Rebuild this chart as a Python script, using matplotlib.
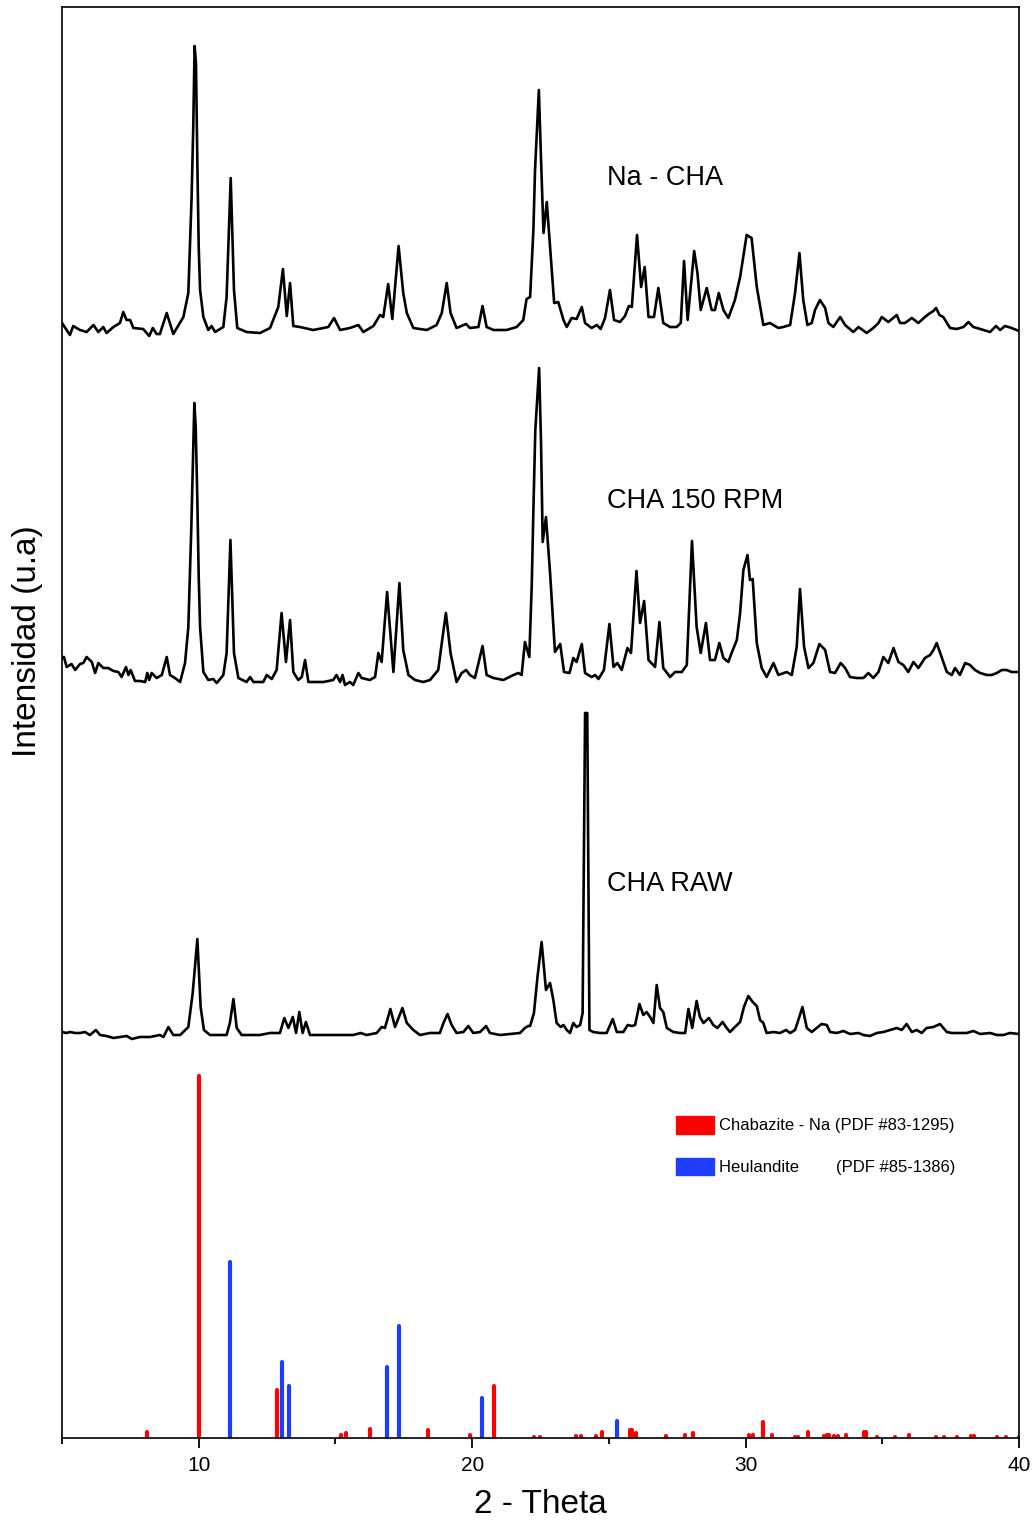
import matplotlib
matplotlib.use("Agg")
import matplotlib.pyplot as plt
from matplotlib.patches import Patch

plt.rcParams["font.family"] = ["Liberation Sans", "DejaVu Sans"]

# --- measured patterns (2theta, intensity a.u. above own baseline) ---
na_cha = [
    (5.00, 12), (5.29, 0), (5.41, 9), (5.66, 5), (5.90, 3), (6.15, 10), (6.33, 3), (6.51, 8),
    (6.63, 2), (6.88, 8), (7.12, 12), (7.24, 23), (7.36, 15), (7.49, 15), (7.61, 7), (7.97, 6),
    (8.19, -1), (8.32, 7), (8.46, 1), (8.58, 1), (8.83, 22), (9.07, 1), (9.44, 18), (9.62, 42),
    (9.74, 138), (9.80, 208), (9.85, 289), (9.90, 272), (9.95, 172), (10.00, 88), (10.05, 45),
    (10.17, 18), (10.35, 5), (10.47, 9), (10.60, 3), (10.90, 8), (11.02, 38), (11.17, 157),
    (11.29, 45), (11.41, 7), (11.75, 3), (12.24, 2), (12.61, 7), (12.91, 28), (13.08, 66),
    (13.22, 19), (13.34, 52), (13.46, 9), (13.70, 8), (14.19, 5), (14.56, 7), (14.74, 8),
    (14.95, 17), (15.17, 5), (15.53, 7), (15.84, 10), (16.02, 3), (16.39, 9), (16.63, 20),
    (16.75, 18), (16.93, 51), (17.08, 16), (17.31, 89), (17.48, 42), (17.61, 22), (17.85, 7),
    (18.34, 5), (18.70, 10), (18.89, 22), (19.07, 52), (19.21, 22), (19.43, 7), (19.78, 11),
    (19.92, 7), (20.23, 8), (20.38, 29), (20.53, 8), (20.78, 5), (21.26, 5), (21.63, 8),
    (21.87, 15), (21.99, 36), (22.12, 38), (22.24, 105), (22.30, 165), (22.44, 245), (22.52, 175),
    (22.61, 102), (22.73, 133), (22.85, 88), (23.00, 32), (23.15, 33), (23.34, 15), (23.46, 8),
    (23.64, 17), (23.82, 16), (24.01, 28), (24.13, 12), (24.37, 7), (24.56, 10), (24.70, 6),
    (24.86, 17), (25.04, 45), (25.19, 15), (25.41, 13), (25.59, 19), (25.73, 29), (25.84, 28),
    (26.03, 100), (26.18, 48), (26.31, 68), (26.45, 18), (26.65, 18), (26.81, 47), (26.99, 12),
    (27.24, 8), (27.48, 8), (27.63, 12), (27.75, 74), (27.88, 15), (28.12, 84), (28.24, 62),
    (28.36, 25), (28.58, 47), (28.76, 25), (28.88, 25), (29.02, 42), (29.19, 25), (29.37, 17),
    (29.61, 35), (29.80, 58), (30.04, 100), (30.22, 97), (30.41, 48), (30.65, 10), (30.89, 12),
    (31.20, 7), (31.38, 8), (31.63, 10), (31.81, 42), (31.97, 82), (32.11, 35), (32.26, 10),
    (32.42, 12), (32.54, 25), (32.72, 35), (32.91, 27), (33.03, 12), (33.21, 8), (33.46, 18),
    (33.64, 10), (33.94, 3), (34.13, 8), (34.43, 2), (34.67, 7), (34.86, 12), (34.98, 18),
    (35.22, 13), (35.53, 20), (35.65, 12), (35.83, 12), (36.08, 17), (36.32, 12), (36.56, 18),
    (36.75, 22), (36.87, 24), (36.97, 27), (37.09, 20), (37.23, 18), (37.48, 7), (37.72, 6),
    (37.97, 8), (38.15, 13), (38.33, 8), (38.58, 6), (38.94, 3), (39.16, 9), (39.31, 5),
    (39.49, 9), (39.73, 7), (40.00, 4),
]

cha_150 = [
    (5.00, 27), (5.07, 28), (5.17, 18), (5.35, 21), (5.48, 15), (5.66, 21), (5.78, 22), (5.90, 28),
    (6.09, 23), (6.21, 12), (6.33, 22), (6.51, 17), (6.69, 17), (6.88, 14), (7.06, 13), (7.18, 8),
    (7.34, 18), (7.43, 10), (7.51, 15), (7.67, 4), (7.85, 4), (8.04, 3), (8.12, 12), (8.19, 5),
    (8.28, 12), (8.46, 7), (8.65, 10), (8.83, 28), (8.95, 10), (9.13, 7), (9.32, 3), (9.50, 22),
    (9.62, 58), (9.73, 158), (9.78, 215), (9.84, 282), (9.89, 258), (9.95, 185), (10.00, 108),
    (10.05, 58), (10.17, 13), (10.35, 5), (10.53, 6), (10.66, 2), (10.90, 10), (11.02, 32),
    (11.16, 145), (11.29, 32), (11.45, 7), (11.75, 3), (11.88, 8), (12.00, 3), (12.36, 3),
    (12.49, 10), (12.67, 6), (12.85, 15), (13.03, 72), (13.19, 23), (13.34, 65), (13.46, 13),
    (13.64, 5), (13.77, 8), (13.89, 25), (14.01, 3), (14.56, 3), (14.92, 5), (15.04, 10),
    (15.17, 3), (15.26, 10), (15.35, 0), (15.53, 3), (15.65, 0), (15.84, 12), (15.96, 7),
    (16.26, 5), (16.45, 8), (16.57, 32), (16.69, 23), (16.89, 93), (17.12, 13), (17.34, 102),
    (17.48, 35), (17.67, 10), (17.91, 5), (18.21, 3), (18.46, 5), (18.76, 15), (18.89, 42),
    (19.04, 72), (19.21, 32), (19.43, 3), (19.62, 12), (19.78, 15), (19.92, 10), (20.10, 7),
    (20.26, 25), (20.38, 39), (20.53, 10), (20.78, 7), (21.14, 5), (21.51, 10), (21.69, 12),
    (21.81, 10), (21.93, 43), (22.09, 28), (22.18, 100), (22.24, 175), (22.31, 255), (22.45, 317),
    (22.52, 242), (22.58, 143), (22.70, 168), (22.85, 112), (23.03, 33), (23.22, 41), (23.36, 13),
    (23.56, 12), (23.70, 27), (23.82, 23), (24.01, 41), (24.13, 12), (24.37, 8), (24.50, 10),
    (24.62, 6), (24.82, 15), (25.02, 61), (25.17, 18), (25.31, 22), (25.47, 15), (25.68, 37),
    (25.81, 32), (26.01, 114), (26.14, 62), (26.29, 84), (26.45, 25), (26.69, 18), (26.85, 63),
    (26.99, 17), (27.24, 8), (27.42, 13), (27.67, 13), (27.85, 20), (28.04, 144), (28.21, 58),
    (28.36, 32), (28.55, 62), (28.70, 25), (28.88, 25), (29.04, 42), (29.19, 27), (29.37, 23),
    (29.49, 32), (29.68, 45), (29.80, 72), (29.92, 115), (30.07, 130), (30.16, 105), (30.26, 106),
    (30.41, 42), (30.59, 17), (30.77, 8), (31.02, 22), (31.20, 10), (31.50, 13), (31.69, 10),
    (31.87, 38), (31.99, 96), (32.14, 38), (32.30, 17), (32.48, 22), (32.70, 41), (32.91, 35),
    (33.09, 13), (33.27, 12), (33.48, 22), (33.64, 17), (33.82, 8), (34.06, 7), (34.31, 7),
    (34.49, 12), (34.67, 7), (34.86, 13), (35.04, 28), (35.22, 22), (35.41, 37), (35.59, 23),
    (35.77, 20), (35.95, 13), (36.14, 23), (36.32, 17), (36.56, 27), (36.75, 30), (36.87, 35),
    (36.99, 42), (37.17, 28), (37.36, 13), (37.54, 10), (37.66, 17), (37.84, 10), (38.03, 22),
    (38.21, 20), (38.39, 15), (38.58, 12), (38.82, 10), (39.00, 10), (39.19, 12), (39.37, 15),
    (39.55, 15), (39.73, 13), (40.00, 13),
]

cha_raw = [
    (5.00, 8), (5.17, 7), (5.29, 8), (5.48, 7), (5.66, 7), (5.84, 8), (6.02, 5), (6.24, 10),
    (6.39, 5), (6.63, 4), (6.88, 2), (7.12, 3), (7.37, 4), (7.55, 1), (7.85, 3), (8.22, 3),
    (8.58, 5), (8.71, 3), (8.89, 13), (9.07, 5), (9.32, 5), (9.62, 13), (9.78, 47), (9.95, 101),
    (10.07, 33), (10.19, 10), (10.41, 5), (11.02, 5), (11.14, 17), (11.27, 41), (11.39, 12),
    (11.57, 5), (12.24, 5), (12.61, 7), (12.97, 7), (13.13, 22), (13.28, 12), (13.44, 23),
    (13.56, 7), (13.68, 28), (13.80, 7), (13.92, 18), (14.07, 5), (14.68, 5), (15.29, 5),
    (15.65, 5), (15.92, 7), (16.14, 5), (16.51, 7), (16.69, 13), (16.81, 12), (17.01, 31),
    (17.18, 13), (17.45, 32), (17.61, 17), (17.85, 10), (18.09, 5), (18.46, 7), (18.82, 7),
    (18.95, 17), (19.10, 26), (19.25, 15), (19.43, 7), (19.68, 8), (19.86, 14), (20.04, 7),
    (20.29, 8), (20.51, 14), (20.65, 7), (21.02, 5), (21.38, 6), (21.75, 7), (21.93, 12),
    (22.05, 14), (22.12, 14), (22.26, 27), (22.39, 63), (22.54, 98), (22.70, 50), (22.85, 57),
    (22.97, 40), (23.09, 17), (23.24, 13), (23.34, 15), (23.46, 10), (23.58, 7), (23.70, 17),
    (23.82, 13), (23.95, 15), (24.04, 27), (24.13, 327), (24.21, 327), (24.29, 10), (24.43, 8),
    (24.68, 7), (24.92, 7), (25.14, 21), (25.29, 8), (25.53, 8), (25.69, 15), (25.84, 14),
    (25.96, 15), (26.12, 36), (26.26, 25), (26.38, 28), (26.51, 23), (26.63, 17), (26.75, 55),
    (26.87, 32), (26.99, 28), (27.12, 12), (27.36, 8), (27.60, 7), (27.79, 7), (27.91, 31),
    (28.05, 12), (28.21, 39), (28.33, 23), (28.46, 17), (28.66, 22), (28.82, 15), (28.97, 12),
    (29.16, 18), (29.31, 12), (29.43, 8), (29.61, 13), (29.80, 18), (29.94, 33), (30.10, 44),
    (30.26, 38), (30.41, 34), (30.53, 20), (30.65, 17), (30.77, 7), (31.02, 8), (31.26, 7),
    (31.48, 10), (31.63, 7), (31.81, 10), (31.93, 20), (32.08, 33), (32.24, 12), (32.42, 8),
    (32.60, 12), (32.78, 16), (32.97, 15), (33.09, 8), (33.33, 7), (33.58, 9), (33.82, 6),
    (34.13, 7), (34.31, 5), (34.55, 4), (34.80, 7), (35.04, 8), (35.28, 10), (35.53, 12),
    (35.71, 10), (35.89, 16), (36.08, 8), (36.26, 10), (36.44, 7), (36.62, 12), (36.87, 13),
    (37.11, 16), (37.36, 8), (37.54, 7), (37.84, 7), (38.09, 7), (38.33, 9), (38.58, 6),
    (38.94, 7), (39.19, 5), (39.43, 5), (39.67, 7), (40.00, 6),
]

# vertical stacking of the three patterns (a.u.)
offsets = {"Na - CHA": 1103, "CHA 150 RPM": 753, "CHA RAW": 398}
label_y = {"Na - CHA": 1260, "CHA 150 RPM": 937, "CHA RAW": 554}
label_x = 24.93

# --- reference cards ---
chabazite_2theta = [8.10, 10.00, 12.85, 15.20, 15.38, 16.25, 18.40, 19.93, 20.80, 22.26, 22.48,
                    23.80, 23.97, 24.53, 24.75, 25.76, 25.85, 25.98, 27.08, 27.79, 28.07, 30.14,
                    30.26, 30.64, 30.95, 31.81, 31.92, 32.30, 32.86, 32.98, 33.05, 33.24, 33.38,
                    33.68, 34.32, 34.42, 34.82, 35.45, 35.98, 36.98, 37.26, 37.74, 38.25, 38.36,
                    39.20, 39.53, 40.00]
chabazite_int = [6, 362, 48, 3, 5, 9, 8, 3, 52, 1.5, 1.5,
                 2, 2, 2, 6, 8, 8.5, 5, 2, 3.5, 5.5, 3,
                 3, 16, 3.4, 1.4, 1.4, 6, 2, 3, 3, 2.4, 2,
                 3.4, 6, 6, 1, 1, 3, 1, 1, 1, 2, 2,
                 1, 1, 1]
heulandite_2theta = [11.16, 13.03, 13.32, 16.90, 17.31, 20.35, 25.28]
heulandite_int = [176, 76, 52, 71, 112, 40, 17]

RED = "#FF0000"
BLUE = "#1F3DFF"

fig = plt.figure(figsize=(10.36, 15.23), dpi=100)
ax = fig.add_axes([62 / 1036, 1 - 1438 / 1523, 957 / 1036, 1431 / 1523])

ax.vlines(chabazite_2theta, 0, chabazite_int, color=RED, linewidth=3, capstyle="round")
ax.vlines(heulandite_2theta, 0, heulandite_int, color=BLUE, linewidth=3, capstyle="round")

for name, pts in [("Na - CHA", na_cha), ("CHA 150 RPM", cha_150), ("CHA RAW", cha_raw)]:
    xs = [p[0] for p in pts]
    ys = [p[1] + offsets[name] for p in pts]
    ax.plot(xs, ys, color="black", linewidth=1.9, solid_joinstyle="round")
    ax.text(label_x, label_y[name], name, fontsize=19.5, ha="left", va="center")

handles = [Patch(facecolor=RED, edgecolor=RED), Patch(facecolor=BLUE, edgecolor=BLUE)]
labels = ["Chabazite - Na (PDF #83-1295)", "Heulandite        (PDF #85-1386)"]
ax.legend(handles, labels, loc="upper left", bbox_to_anchor=(0.6416, 0.225), frameon=False,
          fontsize=12, handlelength=2.3, handleheight=1.25, handletextpad=0.25,
          labelspacing=1.45, borderpad=0, borderaxespad=0)

ax.set_xlim(5, 40)
ax.set_ylim(0, 1431)
ax.set_xticks([10, 20, 30, 40])
ax.set_xticks([5, 15, 25, 35], minor=True)
ax.set_yticks([])
ax.tick_params(axis="x", which="major", direction="out", length=7, width=1.3, labelsize=15, pad=6)
ax.tick_params(axis="x", which="minor", direction="out", length=4, width=1.3)
for sp in ax.spines.values():
    sp.set_linewidth(1.2)

ax.set_xlabel("2 - Theta", fontsize=24, labelpad=10)
ax.set_ylabel("Intensidad (u.a)", fontsize=24, va="center")
ax.yaxis.set_label_coords(-0.036, 0.557)

fig.savefig("out.png", dpi=100)
